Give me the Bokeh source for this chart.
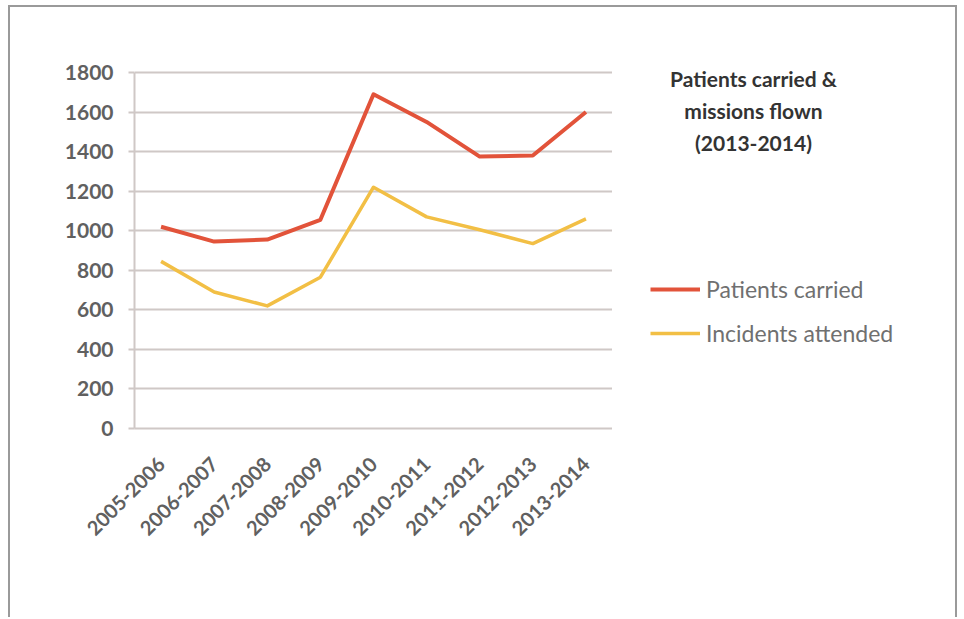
import math
from bokeh.plotting import figure
from bokeh.layouts import row
from bokeh.models import FactorRange, Range1d, Legend, LegendItem, Label, FixedTicker
from bokeh.embed import file_html
from bokeh.resources import INLINE

# ---- data ----
years = ["2005-2006", "2006-2007", "2007-2008", "2008-2009", "2009-2010",
         "2010-2011", "2011-2012", "2012-2013", "2013-2014"]
patients = [1020, 945, 955, 1055, 1690, 1550, 1375, 1380, 1600]
incidents = [845, 690, 620, 765, 1220, 1070, 1005, 935, 1060]
y_ticks = [0, 200, 400, 600, 800, 1000, 1200, 1400, 1600, 1800]
series_names = ["Patients carried", "Incidents attended"]
title_lines = ["Patients carried &", "missions flown", "(2013-2014)"]

# ---- layout (page pixels) ----
OX, OY = 10, 7          # content origin inside the css border
CW, CH = 945, 610       # content size
FRAME_L, FRAME_R, FRAME_B = 134, 612, 428
GRID_TOP = 72           # where the 1800 line sits
FRAME_T = 56            # frame top (a little above the top gridline)
Y_MAX = 1800
Y_TOP = Y_MAX * (FRAME_B - FRAME_T) / (FRAME_B - GRID_TOP)
red, yellow = "#e2533a", "#f2bf45"
grid_col = "#cfc8c6"
label_col = "#606060"

W1 = FRAME_R - OX
p = figure(width=W1, height=CH,
           x_range=FactorRange(*years, range_padding=0),
           y_range=Range1d(0, Y_TOP),
           output_backend="svg", toolbar_location=None,
           min_border_left=FRAME_L - OX,
           min_border_right=0,
           min_border_top=FRAME_T - OY,
           min_border_bottom=CH - (FRAME_B - OY))
p.outline_line_color = None
p.background_fill_color = "white"
p.border_fill_color = "white"

p.yaxis.ticker = FixedTicker(ticks=y_ticks)
p.yaxis.bounds = (0, Y_MAX)
p.yaxis.axis_line_color = grid_col
p.yaxis.axis_line_width = 2
p.yaxis.major_tick_line_color = grid_col
p.yaxis.major_tick_line_width = 2
p.yaxis.major_tick_in = 0
p.yaxis.major_tick_out = 6
p.yaxis.minor_tick_line_color = None
p.yaxis.major_label_standoff = 15
p.yaxis.major_label_text_font = "Lato"
p.yaxis.major_label_text_font_size = "21px"
p.yaxis.major_label_text_font_style = "bold"
p.yaxis.major_label_text_color = label_col

p.xaxis.axis_line_color = grid_col
p.xaxis.axis_line_width = 2
p.xaxis.major_tick_line_color = None
p.xaxis.major_tick_in = 0
p.xaxis.major_tick_out = 0
p.xaxis.major_label_orientation = math.pi / 4
p.xaxis.major_label_standoff = 32
p.xaxis.major_label_text_font = "Lato"
p.xaxis.major_label_text_font_size = "20px"
p.xaxis.major_label_text_font_style = "bold"
p.xaxis.major_label_text_color = label_col

p.xgrid.grid_line_color = None
p.ygrid.ticker = FixedTicker(ticks=y_ticks)
p.ygrid.grid_line_color = grid_col
p.ygrid.grid_line_width = 2

p.line(years, patients, line_color=red, line_width=4, line_join="round")
p.line(years, incidents, line_color=yellow, line_width=3.5, line_join="round")

# ---- right-hand panel: title and legend (page-pixel coordinates) ----
# (its frame is aligned to the left figure's frame by the row layout)
W2 = CW - W1
p2 = figure(width=W2, height=CH,
            x_range=Range1d(FRAME_R, FRAME_R + W2),
            y_range=Range1d(FRAME_B, FRAME_T),
            x_axis_type=None, y_axis_type=None,
            output_backend="svg", toolbar_location=None,
            min_border=0, min_border_left=0, min_border_right=0,
            min_border_top=FRAME_T - OY,
            min_border_bottom=CH - (FRAME_B - OY))
p2.outline_line_color = None
p2.grid.grid_line_color = None
p2.background_fill_color = "white"
p2.border_fill_color = "white"

for i, line in enumerate(title_lines):
    p2.add_layout(Label(x=753, y=78 + 32 * i, text=line,
                        text_align="center", text_baseline="middle",
                        text_font="Lato", text_font_style="bold",
                        text_font_size="21px", text_color="#333333"))

# legend keys: renderers styled like the series, kept off-frame
k1 = p2.line([0, 1], [0, 0], line_color=red, line_width=4)
k2 = p2.line([0, 1], [0, 0], line_color=yellow, line_width=3.5)
legend = Legend(items=[LegendItem(label=series_names[0], renderers=[k1]),
                       LegendItem(label=series_names[1], renderers=[k2])],
                location=(650 - FRAME_R, FRAME_B - 347),
                border_line_color=None, background_fill_alpha=0,
                padding=0, margin=0, spacing=16,
                glyph_width=50, glyph_height=28, label_height=28,
                label_standoff=6,
                label_text_font="Lato", label_text_font_size="23px",
                label_text_color="#707070")
p2.add_layout(legend)

layout = row(p, p2, styles={"border-top": "2px solid #9a9a9a",
                            "border-left": "2px solid #9a9a9a",
                            "border-right": "2px solid #9a9a9a",
                            "margin-left": f"{OX - 2}px",
                            "margin-top": f"{OY - 2}px"})

open("out.html", "w").write(file_html(layout, INLINE))
